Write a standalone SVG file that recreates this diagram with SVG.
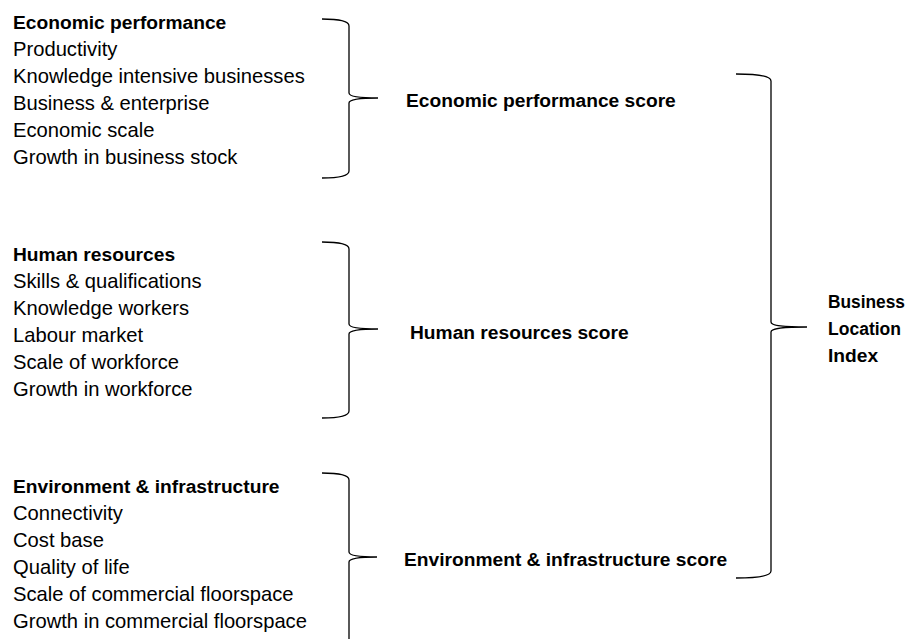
<svg xmlns="http://www.w3.org/2000/svg" width="912" height="639" viewBox="0 0 912 639">
<style>
text{font-family:"Liberation Sans",Arial,sans-serif;font-size:20.2px;fill:#000}
.b{font-weight:bold;font-size:19.2px}
.br{fill:none;stroke:#000;stroke-width:1.3}
</style>
<rect width="912" height="639" fill="#fff"/>
<g id="economic-performance">
<text class="b" x="13" y="29">Economic performance</text>
<text x="13" y="56">Productivity</text>
<text x="13" y="83">Knowledge intensive businesses</text>
<text x="13" y="110">Business &amp; enterprise</text>
<text x="13" y="137">Economic scale</text>
<text x="13" y="164">Growth in business stock</text>
</g>
<g id="human-resources">
<text class="b" x="13" y="261">Human resources</text>
<text x="13" y="288">Skills &amp; qualifications</text>
<text x="13" y="315">Knowledge workers</text>
<text x="13" y="342">Labour market</text>
<text x="13" y="369">Scale of workforce</text>
<text x="13" y="396">Growth in workforce</text>
</g>
<g id="environment-infrastructure">
<text class="b" x="13" y="493">Environment &amp; infrastructure</text>
<text x="13" y="520">Connectivity</text>
<text x="13" y="547">Cost base</text>
<text x="13" y="574">Quality of life</text>
<text x="13" y="601">Scale of commercial floorspace</text>
<text x="13" y="628">Growth in commercial floorspace</text>
</g>
<g id="economic-performance-score">
<text class="b" x="406" y="107">Economic performance score</text>
</g>
<g id="human-resources-score">
<text class="b" x="410" y="339">Human resources score</text>
</g>
<g id="environment-infrastructure-score">
<text class="b" x="404" y="566">Environment &amp; infrastructure score</text>
</g>
<g id="business-location-index">
<text class="b" x="828" y="308" textLength="77" lengthAdjust="spacingAndGlyphs">Business</text>
<text class="b" x="828" y="335" textLength="73" lengthAdjust="spacingAndGlyphs">Location</text>
<text class="b" x="828" y="362">Index</text>
</g>
<g id="connectors">
<path class="br" d="M322,19 C340,19 349,21 349,26 L349,93 C349,96 355,98 378,98 C355,98 349,100 349,103 L349,171 C349,176 340,178 322,178"/>
<path class="br" d="M322,242 C340,242 349,244 349,249 L349,324 C349,327 355,329 378,329 C355,329 349,331 349,334 L349,411 C349,416 340,418 322,418"/>
<path class="br" d="M322,473 C340,473 349,475 349,480 L349,552 C349,555 355,557 377,557 C355,557 349,559 349,562 L349,660"/>
<path class="br" d="M736,74 C760,74 771,76 771,81 L771,322 C771,325 778,327 807,327 C778,327 771,329 771,332 L771,571 C771,576 760,578 736,578"/>
</g>
</svg>
